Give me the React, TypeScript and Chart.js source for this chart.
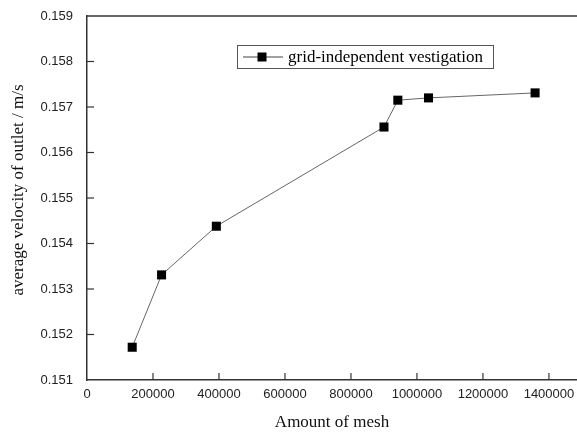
import React, { useEffect, useRef } from "react";
import { Chart, registerables } from "chart.js";

Chart.register(...registerables);

const meshCounts = [137000, 226000, 392000, 900000, 942000, 1035000, 1358000];
const outletVelocity = [0.15172, 0.15331, 0.15438, 0.15656, 0.15715, 0.1572, 0.15731];
const xTickValues = [0, 200000, 400000, 600000, 800000, 1000000, 1200000, 1400000];
const yTickValues = [0.151, 0.152, 0.153, 0.154, 0.155, 0.156, 0.157, 0.158, 0.159];
const seriesLabel = "grid-independent vestigation";
const xTitle = "Amount of mesh";
const yTitle = "average velocity of outlet / m/s";

const AXIS_COLOR = "#333333";
const SERIF = "'Liberation Serif', 'Times New Roman', serif";
const SANS = "'Liberation Sans', Arial, sans-serif";

const decorPlugin = {
  id: "decor",
  afterDraw(chart: any) {
    const { ctx, chartArea } = chart;
    const { left, right, top, bottom } = chartArea;
    const xs = chart.scales.x;
    const ys = chart.scales.y;
    ctx.save();
    // top border
    ctx.strokeStyle = AXIS_COLOR;
    ctx.lineWidth = 1.5;
    ctx.beginPath();
    ctx.moveTo(left, top);
    ctx.lineTo(right + 2, top);
    ctx.stroke();
    // inward ticks
    ctx.lineWidth = 1.2;
    xs.ticks.forEach((t: any) => {
      if (t.value === 0) return;
      const px = xs.getPixelForValue(t.value);
      ctx.beginPath();
      ctx.moveTo(px, bottom);
      ctx.lineTo(px, bottom - 7);
      ctx.stroke();
    });
    ys.ticks.forEach((t: any, i: number) => {
      if (i === 0 || i === ys.ticks.length - 1) return;
      const py = ys.getPixelForValue(t.value);
      ctx.beginPath();
      ctx.moveTo(left, py);
      ctx.lineTo(left + 7, py);
      ctx.stroke();
    });
    // axis titles
    ctx.fillStyle = "#111";
    ctx.font = `17px ${SERIF}`;
    ctx.textAlign = "center";
    ctx.textBaseline = "alphabetic";
    ctx.fillText(xTitle, (left + right) / 2, 427);
    ctx.save();
    ctx.translate(23, 190);
    ctx.rotate(-Math.PI / 2);
    ctx.fillText(yTitle, 0, 0);
    ctx.restore();
    // legend
    const bx = 237, by = 45, bw = 256, bh = 23;
    ctx.strokeStyle = "#555";
    ctx.lineWidth = 1;
    ctx.strokeRect(bx + 0.5, by + 0.5, bw, bh);
    const cy = by + bh / 2 + 0.5;
    ctx.strokeStyle = "#444";
    ctx.lineWidth = 1;
    ctx.beginPath();
    ctx.moveTo(243, cy);
    ctx.lineTo(283, cy);
    ctx.stroke();
    ctx.fillStyle = "#000";
    ctx.fillRect(262 - 4.5, cy - 4.5, 9, 9);
    ctx.fillStyle = "#000";
    ctx.font = `17px ${SERIF}`;
    ctx.textAlign = "left";
    ctx.textBaseline = "middle";
    ctx.fillText(seriesLabel, 288, cy + 1);
    ctx.restore();
  },
};

export default function App() {
  const ref = useRef<HTMLCanvasElement | null>(null);
  useEffect(() => {
    if (!ref.current) return;
    const chart = new Chart(ref.current, {
      type: "line",
      data: {
        datasets: [
          {
            label: seriesLabel,
            data: meshCounts.map((x, i) => ({ x, y: outletVelocity[i] })),
            borderColor: "#666666",
            borderWidth: 1,
            pointStyle: "rect",
            pointRadius: 6.4,
            pointBackgroundColor: "#000",
            pointBorderColor: "#000",
            pointBorderWidth: 0,
            tension: 0,
            clip: false,
          },
        ],
      },
      options: {
        animation: false,
        responsive: false,
        maintainAspectRatio: false,
        layout: { autoPadding: false, padding: { top: 16, left: 0, right: 0, bottom: 0 } },
        plugins: { legend: { display: false }, tooltip: { enabled: false } },
        scales: {
          x: {
            type: "linear",
            min: 0,
            max: 1485000,
            afterBuildTicks: (s: any) => {
              s.ticks = xTickValues.map((value) => ({ value }));
            },
            afterFit: (s: any) => {
              s.height = 52;
              s.paddingLeft = 0;
              s.paddingRight = 0;
            },
            grid: { display: false, drawTicks: false },
            border: { display: true, color: AXIS_COLOR, width: 1.5 },
            ticks: {
              padding: 7,
              color: "#222",
              font: { family: SANS, size: 13 },
              callback: (v: any) => String(v),
              maxRotation: 0,
              autoSkip: false,
            },
          },
          y: {
            type: "linear",
            min: 0.151,
            max: 0.159,
            afterBuildTicks: (s: any) => {
              s.ticks = yTickValues.map((value) => ({ value }));
            },
            afterFit: (s: any) => {
              s.width = 87;
              s.paddingTop = 0;
              s.paddingBottom = 0;
            },
            grid: { display: false, drawTicks: false },
            border: { display: true, color: AXIS_COLOR, width: 1.5 },
            ticks: {
              padding: 14,
              color: "#222",
              font: { family: SANS, size: 13 },
              callback: (v: any) => Number(v).toFixed(3),
              autoSkip: false,
            },
          },
        },
      },
      plugins: [decorPlugin],
    });
    return () => chart.destroy();
  }, []);
  return (
    <div style={{ position: "fixed", left: 0, top: 0, width: 577, height: 432, background: "#fff" }}>
      <canvas ref={ref} width={577} height={432} style={{ width: 577, height: 432, display: "block" }} />
    </div>
  );
}
